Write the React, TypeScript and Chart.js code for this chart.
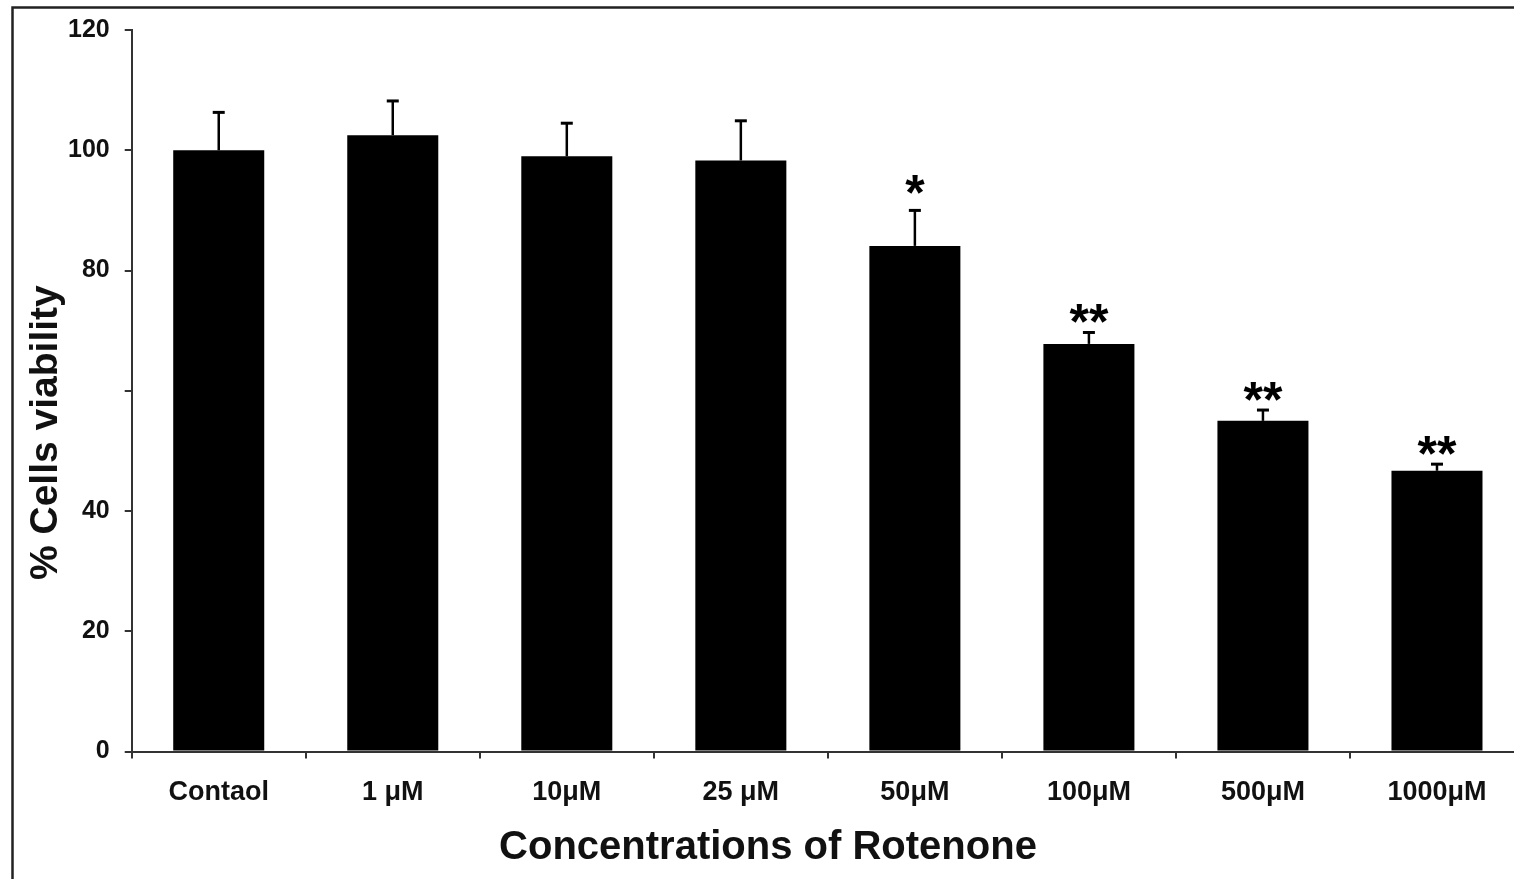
import React, { useEffect, useRef } from "react";
import { Chart, registerables } from "chart.js";

Chart.register(...registerables);

const categories = ["Contaol", "1 μM", "10μM", "25 μM", "50μM", "100μM", "500μM", "1000μM"];
const viability = [100, 102.5, 99.0, 98.3, 84.1, 67.8, 55.0, 46.7];
const errors = [6.3, 5.7, 5.5, 6.6, 5.9, 1.9, 1.8, 1.1];
const significance = ["", "", "", "", "*", "**", "**", "**"];
const yTicksHidden = [60];
const xAxisTitle = "Concentrations of Rotenone";
const yAxisTitle = "% Cells viability";

const FONT = "'Liberation Sans', Arial, Helvetica, sans-serif";

const framePlugin = {
  id: "frame",
  beforeDraw(chart: any) {
    const ctx = chart.ctx;
    ctx.save();
    ctx.fillStyle = "#ffffff";
    ctx.fillRect(0, 0, chart.width, chart.height);
    ctx.strokeStyle = "#222222";
    ctx.lineWidth = 2.5;
    ctx.beginPath();
    ctx.moveTo(12.5, chart.height);
    ctx.lineTo(12.5, 7.5);
    ctx.lineTo(chart.width, 7.5);
    ctx.stroke();
    ctx.restore();
  },
};

const axisTitlePlugin = {
  id: "axisTitles",
  afterDraw(chart: any) {
    const ctx = chart.ctx;
    const area = chart.chartArea;
    ctx.save();
    ctx.fillStyle = "#111111";
    ctx.textAlign = "center";
    ctx.textBaseline = "middle";
    // x-axis title (sits left of the plot centre in the original)
    ctx.font = `bold 40px ${FONT}`;
    ctx.fillText(xAxisTitle, area.left + 0.457 * (area.right - area.left), area.bottom + 96);
    // y-axis title, rotated
    ctx.font = `bold 39px ${FONT}`;
    ctx.translate(area.left - 85, area.top + 0.558 * (area.bottom - area.top));
    ctx.rotate(-Math.PI / 2);
    ctx.fillText(yAxisTitle, 0, 0);
    ctx.restore();
  },
};

const errorBarPlugin = {
  id: "errorBars",
  afterDatasetsDraw(chart: any) {
    const ctx = chart.ctx;
    const meta = chart.getDatasetMeta(0);
    const yScale = chart.scales.y;
    ctx.save();
    ctx.strokeStyle = "#000000";
    meta.data.forEach((bar: any, i: number) => {
      const x = bar.x;
      const yTop = yScale.getPixelForValue(viability[i] + errors[i]);
      const yBar = bar.y;
      ctx.lineWidth = 2.5;
      ctx.beginPath();
      ctx.moveTo(x, yBar);
      ctx.lineTo(x, yTop);
      ctx.stroke();
      ctx.lineWidth = 3;
      ctx.beginPath();
      ctx.moveTo(x - 6, yTop);
      ctx.lineTo(x + 6, yTop);
      ctx.stroke();

      const s = significance[i];
      if (s) {
        ctx.font = `bold 50px ${FONT}`;
        ctx.fillStyle = "#000000";
        ctx.textAlign = "center";
        ctx.textBaseline = "alphabetic";
        const m = ctx.measureText(s);
        const asc = m.actualBoundingBoxAscent;
        const desc = m.actualBoundingBoxDescent;
        const gap = s.length === 1 ? 26 : 19;
        const centerY = yTop - gap;
        ctx.fillText(s, x, centerY + (asc - desc) / 2);
      }
    });
    ctx.restore();
  },
};

export default function App() {
  const canvasRef = useRef<HTMLCanvasElement | null>(null);

  useEffect(() => {
    document.body.style.margin = "0";
    const canvas = canvasRef.current;
    if (!canvas) return;
    const chart = new Chart(canvas, {
      type: "bar",
      data: {
        labels: categories,
        datasets: [
          {
            data: viability,
            backgroundColor: "#000000",
            borderWidth: 0,
            barPercentage: 0.523,
            categoryPercentage: 1,
          },
        ],
      },
      options: {
        responsive: false,
        animation: false,
        devicePixelRatio: 1,
        layout: { padding: { left: 53, top: 30, right: 6, bottom: 52 } },
        plugins: {
          legend: { display: false },
          tooltip: { enabled: false },
        },
        scales: {
          x: {
            offset: true,
            grid: {
              offset: true,
              drawOnChartArea: false,
              drawTicks: true,
              tickLength: 7,
              color: "#333333",
              lineWidth: 2,
            },
            border: { display: true, color: "#333333", width: 2 },
            ticks: {
              color: "#111111",
              font: { family: FONT, size: 27, weight: "bold" },
              padding: 18,
              maxRotation: 0,
              autoSkip: false,
            },
          },
          y: {
            min: 0,
            max: 120,
            grid: {
              drawOnChartArea: false,
              drawTicks: true,
              tickLength: 7,
              color: "#333333",
              lineWidth: 2,
            },
            border: { display: true, color: "#333333", width: 2 },
            ticks: {
              stepSize: 20,
              color: "#111111",
              font: { family: FONT, size: 25, weight: "bold" },
              padding: 15,
              callback: (v: any) => (yTicksHidden.includes(Number(v)) ? "" : String(v)),
            },
          },
        },
      },
      plugins: [framePlugin, errorBarPlugin, axisTitlePlugin],
    });
    return () => chart.destroy();
  }, []);

  return (
    <div
      style={{
        position: "fixed",
        top: 0,
        left: 0,
        width: 1514,
        height: 879,
        overflow: "hidden",
        background: "#ffffff",
      }}
    >
      <canvas ref={canvasRef} width={1530} height={879} style={{ display: "block" }} />
    </div>
  );
}
